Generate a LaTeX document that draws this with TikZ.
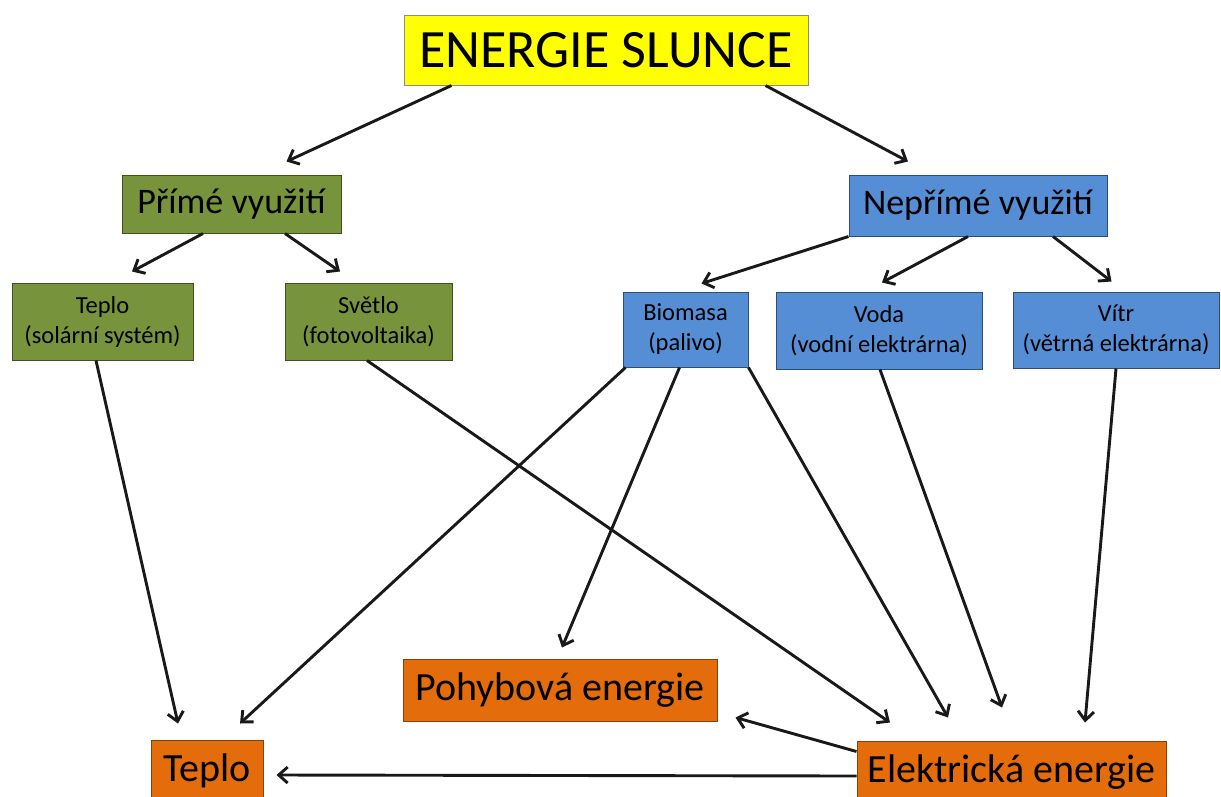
\documentclass[tikz,border=0pt]{standalone}
\usepackage{fontspec}
\setmainfont{Carlito}
\usetikzlibrary{arrows.meta}
\definecolor{cyellow}{HTML}{FFFF00}
\definecolor{cgreen}{HTML}{77933C}
\definecolor{cblue}{HTML}{558ED5}
\definecolor{corange}{HTML}{E46C0A}
\tikzset{
  box/.style={rectangle, inner sep=0pt, line width=1pt, align=center, text=black},
  ybox/.style={box, fill=cyellow, draw=black!45},
  gbox/.style={box, fill=cgreen, draw=cgreen!55!black},
  bbox/.style={box, fill=cblue, draw=cblue!55!black},
  obox/.style={box, fill=corange, draw=corange!60!black},
  huge/.style={font=\fontsize{54}{60}\selectfont},
  mid/.style={font=\fontsize{36}{40}\selectfont},
  big/.style={font=\fontsize{40}{46}\selectfont},
  small/.style={font=\fontsize{24.5}{30}\selectfont},
  arr/.style={-{Straight Barb[length=9pt,width=16pt]}, line width=2.9pt, draw=black!90},
}
\begin{document}
\begin{tikzpicture}[x=1pt,y=-1pt]
\useasboundingbox (0,0) rectangle (1221,796);
% nodes
\node[ybox, huge, minimum width=404pt, minimum height=70pt] (es) at (606,50) {ENERGIE SLUNCE};
\node[gbox, mid, minimum width=219pt, minimum height=58pt] (prime) at (231.5,204) {Přímé využití};
\node[gbox, small, minimum width=181pt, minimum height=77pt] (tep1) at (102.5,321.5) {Teplo\\(solární systém)};
\node[gbox, small, minimum width=167pt, minimum height=77pt] (svet) at (368.5,321.5) {Světlo\\(fotovoltaika)};
\node[bbox, mid, minimum width=258pt, minimum height=61pt] (nep) at (978,205.5) {Nepřímé využití};
\node[bbox, small, minimum width=125pt, minimum height=75pt] (bio) at (685.5,329.5) {Biomasa\\(palivo)};
\node[bbox, small, minimum width=206pt, minimum height=77pt] (voda) at (879,330.5) {Voda\\(vodní elektrárna)};
\node[bbox, small, minimum width=206pt, minimum height=76pt] (vitr) at (1116,330) {Vítr\\(větrná elektrárna)};
\node[obox, big, minimum width=314pt, minimum height=62pt] (pohyb) at (560,690) {Pohybová energie};
\node[obox, big, minimum width=112pt, minimum height=62pt] (teplo) at (207,771) {Teplo};
\node[obox, big, minimum width=309pt, minimum height=62pt] (elek) at (1011.5,772) {Elektrická energie};
% connectors
\draw[arr] ([xshift=48pt]es.south west) -- ([xshift=55pt,yshift=13pt]prime.north);
\draw[arr] ([xshift=-43pt]es.south east) -- ([xshift=-70pt,yshift=13pt]nep.north);
\draw[arr] ([xshift=-28.5pt]prime.south) -- ([xshift=29.5pt,yshift=11pt]tep1.north);
\draw[arr] ([xshift=53.5pt]prime.south) -- ([xshift=-28.5pt,yshift=11pt]svet.north);
\draw[arr] (nep.south west) -- ([xshift=16pt,yshift=8pt]bio.north);
\draw[arr] ([xshift=-10pt]nep.south) -- ([xshift=3pt,yshift=9pt]voda.north);
\draw[arr] ([xshift=75pt]nep.south) -- ([xshift=-4.5pt,yshift=10pt]vitr.north);
\draw[arr] ([xshift=-6.5pt]tep1.south) -- ([xshift=-29pt,yshift=16pt]teplo.north);
\draw[arr] ([xshift=-1.5pt]svet.south) -- ([xshift=-121.5pt,yshift=18pt]elek.north);
\draw[arr] ([xshift=3pt]bio.south west) -- ([xshift=33pt,yshift=16pt]teplo.north);
\draw[arr] ([xshift=-6pt]bio.south) -- ([xshift=2pt,yshift=11pt]pohyb.north);
\draw[arr] (bio.south east) -- ([xshift=-63.5pt,yshift=23pt]elek.north);
\draw[arr] ([xshift=1pt]voda.south) -- ([xshift=-9.5pt,yshift=33pt]elek.north);
\draw[arr] (vitr.south) -- ([xshift=73.5pt,yshift=18pt]elek.north);
\draw[arr] ([yshift=-11pt]elek.north west) -- ([xshift=18pt,yshift=4pt]pohyb.south east);
\draw[arr] ([yshift=-4pt]elek.west) -- ([xshift=13pt,yshift=-4pt]teplo.east);
\end{tikzpicture}
\end{document}
